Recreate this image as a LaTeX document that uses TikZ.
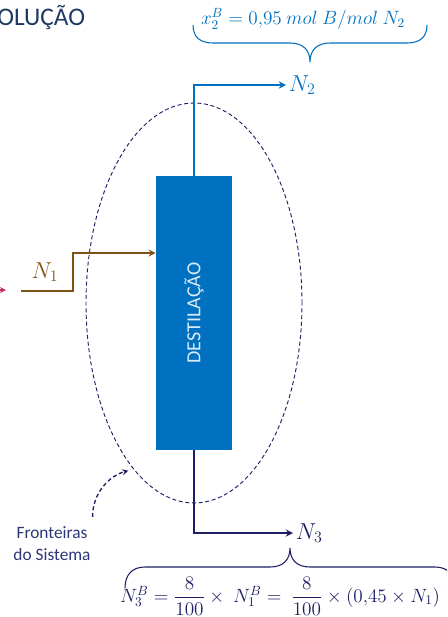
\documentclass[tikz,border=0pt]{standalone}
\usepackage{amsmath, amssymb}
\usepackage{fontspec}
\setmainfont{Carlito}
\definecolor{procblue}{RGB}{0, 112, 192}
\definecolor{feedbrown}{RGB}{127, 82, 22}
\definecolor{bottomnavy}{RGB}{30, 30, 100}
\definecolor{labelnavy}{RGB}{45, 55, 120}
\definecolor{titlenavy}{RGB}{31, 56, 100}
\definecolor{leftred}{RGB}{200, 40, 90}
\usetikzlibrary{shapes.geometric}

\begin{document}
\begin{tikzpicture}[
  x=0.75pt, y=-0.75pt,
  stream/.style={->, >=stealth, line width=1.4pt},
  flowlabel/.style={font=\fontsize{17}{20}\selectfont, inner sep=2pt},
  brace/.style={line width=0.8pt},
  formula/.style={font=\fontsize{14.5}{17}\selectfont},
]
\clip (0,0) rectangle (447,617);

% Title (cut at the left edge)
\node[anchor=west, text=titlenavy, font=\fontsize{19}{22}\selectfont, inner sep=0pt] (title) at (-3,18) {OLUÇÃO};

% Column and system boundary
\node[draw=none, fill=procblue, minimum width=57pt, minimum height=205.5pt, inner sep=0pt] (dest) at (194,313) {};
\node[rotate=90, text=white!85!procblue, font=\fontsize{15}{18}\selectfont] (destlabel) at (dest.center) {DESTILAÇÃO};
\node[ellipse, draw=bottomnavy, dashed, dash pattern=on 3pt off 2pt, line width=0.7pt, minimum width=162pt, minimum height=300pt, inner sep=0pt] (sys) at (194,303) {};

% Stream labels
\node[flowlabel, anchor=west, text=procblue] (n2) at (286,85) {$N_2$};
\node[flowlabel, anchor=west, text=bottomnavy] (n3) at (293,533) {$N_3$};
\node[flowlabel, text=feedbrown] (n1) at (45,272) {$N_1$};
\coordinate (feed) at (21,291);

% Streams
\draw[stream, procblue] (dest.north) |- (n2.west);
\draw[stream, bottomnavy] (dest.south) |- (n3.west);
\draw[stream, feedbrown] (feed) -- ++(52,0) |- ([yshift=45pt]dest.west);
\draw[stream, leftred, line width=1pt] (-12,290) -- (6,290);

% Boundary note
\node[text=labelnavy, align=center, font=\fontsize{13}{16.5}\selectfont] (front) at (52,544) {Fronteiras\\do Sistema};
\draw[->, >=stealth, bottomnavy, dashed, dash pattern=on 3pt off 2pt, line width=1pt, shorten >=4pt] ([xshift=-2pt,yshift=4pt]front.north east) to[out=90, in=195] (sys.250);

% Top brace and composition
\draw[brace, procblue] (193,25) .. controls (193,37) and (200,43) .. (213,43) -- (290,43) .. controls (303,43) and (310,50) .. (310,62) .. controls (310,50) and (317,43) .. (330,43) -- (407,43) .. controls (420,43) and (427,37) .. (427,25);
\node[formula, text=procblue] (xb) at (303,19) {$x_2^B = 0{,}95\ mol\ B/mol\ N_2$};

% Bottom brace and balance
\draw[brace, bottomnavy] (125,588) .. controls (125,575) and (132,567) .. (145,567) -- (270,567) .. controls (283,567) and (290,560) .. (290,548) .. controls (290,560) and (297,567) .. (310,567) -- (435,567) .. controls (448,567) and (455,575) .. (455,588);
\node[formula, text=bottomnavy] (n3b) at (280,596) {$N_3^B = \dfrac{8}{100}\times\ N_1^B =\ \dfrac{8}{100}\times(0{,}45\times N_1)$};
\end{tikzpicture}
\end{document}
